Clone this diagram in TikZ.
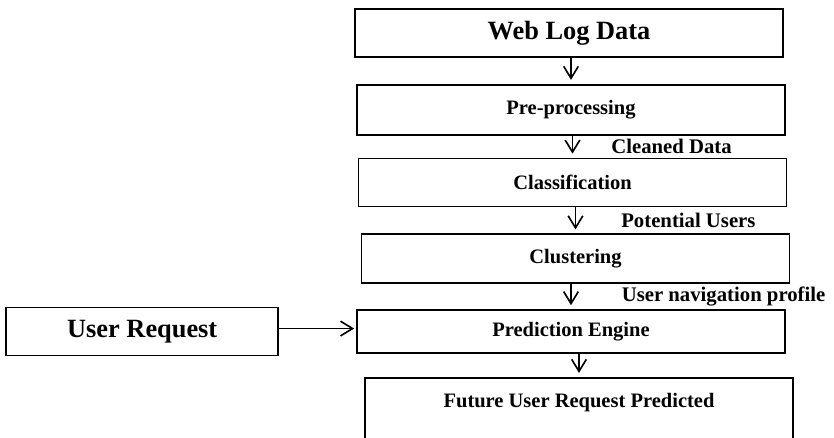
\documentclass[tikz,border=0pt]{standalone}
\usepackage{fontspec}
\setmainfont{Liberation Serif}
\usetikzlibrary{arrows.meta,positioning}

\begin{document}
\begin{tikzpicture}[x=0.03cm, y=-0.03cm,
    process/.style={rectangle, draw=black, line width=1.5pt, minimum width=12.84cm, minimum height=1.44cm, text centered, font=\bfseries\fontsize{17.5}{20}\selectfont},
    bigtext/.style={font=\bfseries\fontsize{22.5}{26}\selectfont},
    flowlabel/.style={font=\bfseries\fontsize{17.7}{20}\selectfont, inner sep=0pt},
    arrow/.style={-{Straight Barb[length=0.36cm,width=0.44cm,line width=1.4pt]}, line width=1.4pt, shorten >=0.12cm}
]
\useasboundingbox (0,0) rectangle (834,437);
\clip (0,0) rectangle (834,437);

% Processes
\node (weblog) [process, bigtext] at (569,33) {Web Log Data};
\node (preproc) [process, minimum height=1.5cm, below=0.78cm of weblog, xshift=0.06cm] {Pre-processing};
\node (classif) [process, below=0.66cm of preproc, xshift=0.045cm] {Classification};
\node (cluster) [process, minimum height=1.47cm, below=0.78cm of classif, xshift=0.09cm] {Clustering};
\node (predict) [process, minimum height=1.29cm, below=0.75cm of cluster, xshift=-0.135cm] {Prediction Engine};
\node (future) [process, minimum height=0pt, inner ysep=0.45cm, text depth=2.2cm, below=0.69cm of predict, xshift=0.24cm] {Future User Request Predicted};

% Input
\node (user) [process, bigtext, minimum width=8.16cm, left=2.31cm of predict] {User Request};

% Connections
\draw[arrow] (preproc.north |- weblog.south) -- (preproc.north);
\draw[arrow] (classif.north |- preproc.south) -- node[flowlabel, right=1.14cm] {Cleaned Data} (classif.north);
\draw[arrow] (cluster.north |- classif.south) -- node[flowlabel, right=1.35cm] {Potential Users} (cluster.north);
\draw[arrow] (predict.north |- cluster.south) -- node[flowlabel, right=1.5cm] {User navigation profile} (predict.north);
\draw[arrow] (future.north |- predict.south) -- (future.north);
\draw[arrow, shorten >=0.06cm] ([yshift=0.09cm]user.east) -- ([yshift=0.09cm]predict.west);

\end{tikzpicture}
\end{document}
